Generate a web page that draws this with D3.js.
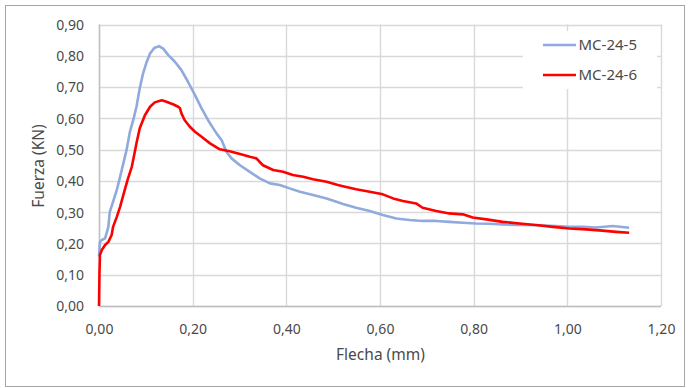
<!DOCTYPE html>
<html>
<head>
<meta charset="utf-8">
<script src="https://cdn.jsdelivr.net/npm/d3@7"></script>
<style>
  html, body { margin: 0; padding: 0; background: #fff; }
  svg { display: block; }
  text { font-family: "Noto Sans", "Open Sans", sans-serif; fill: #4a4a4a; }
</style>
</head>
<body>
<svg id="chart" width="688" height="388"></svg>
<script>
// ---- Data ----
const seriesNames = ["MC-24-5", "MC-24-6"];
const seriesColors = ["#8FAADC", "#FF0000"];

const xTicks = [0, 0.2, 0.4, 0.6, 0.8, 1.0, 1.2];
const yTicks = [0, 0.1, 0.2, 0.3, 0.4, 0.5, 0.6, 0.7, 0.8, 0.9];

// MC-24-5 (blue): flecha (mm), fuerza (KN)
const mc245X = [0, 0.002, 0.006, 0.013, 0.020, 0.023, 0.030, 0.038, 0.045, 0.052, 0.059, 0.066, 0.073, 0.080, 0.087, 0.094, 0.102, 0.109, 0.118, 0.128, 0.137, 0.148, 0.162, 0.176, 0.190, 0.205, 0.219, 0.233, 0.244, 0.251, 0.262, 0.272, 0.283, 0.301, 0.322, 0.343, 0.365, 0.386, 0.407, 0.429, 0.457, 0.486, 0.507, 0.521, 0.549, 0.578, 0.606, 0.635, 0.663, 0.691, 0.720, 0.748, 0.777, 0.805, 0.834, 0.862, 0.891, 0.933, 0.976, 1.004, 1.033, 1.061, 1.097, 1.132];
const mc245Y = [0.158, 0.205, 0.211, 0.216, 0.253, 0.301, 0.333, 0.371, 0.413, 0.456, 0.500, 0.557, 0.594, 0.637, 0.696, 0.743, 0.781, 0.807, 0.825, 0.831, 0.823, 0.802, 0.781, 0.754, 0.717, 0.674, 0.632, 0.594, 0.568, 0.552, 0.530, 0.493, 0.472, 0.450, 0.429, 0.408, 0.392, 0.387, 0.376, 0.365, 0.355, 0.344, 0.333, 0.326, 0.314, 0.304, 0.291, 0.280, 0.275, 0.272, 0.272, 0.269, 0.266, 0.264, 0.263, 0.261, 0.259, 0.258, 0.256, 0.253, 0.253, 0.251, 0.256, 0.250];

// MC-24-6 (red)
const mc246X = [0, 0.001, 0.002, 0.006, 0.013, 0.020, 0.027, 0.030, 0.038, 0.045, 0.055, 0.062, 0.070, 0.075, 0.080, 0.087, 0.098, 0.109, 0.119, 0.134, 0.144, 0.158, 0.169, 0.173, 0.176, 0.183, 0.194, 0.205, 0.219, 0.237, 0.258, 0.279, 0.301, 0.322, 0.336, 0.350, 0.372, 0.393, 0.414, 0.436, 0.457, 0.486, 0.510, 0.521, 0.549, 0.578, 0.606, 0.628, 0.649, 0.677, 0.691, 0.720, 0.748, 0.777, 0.798, 0.827, 0.862, 0.898, 0.933, 0.969, 1.004, 1.040, 1.075, 1.104, 1.132];
const mc246Y = [0, 0.105, 0.163, 0.179, 0.195, 0.205, 0.227, 0.253, 0.285, 0.317, 0.371, 0.408, 0.445, 0.482, 0.520, 0.568, 0.610, 0.637, 0.651, 0.658, 0.653, 0.645, 0.637, 0.632, 0.616, 0.594, 0.573, 0.557, 0.541, 0.520, 0.501, 0.495, 0.486, 0.477, 0.472, 0.450, 0.435, 0.429, 0.419, 0.413, 0.405, 0.397, 0.387, 0.383, 0.373, 0.365, 0.357, 0.344, 0.336, 0.328, 0.314, 0.304, 0.296, 0.293, 0.283, 0.277, 0.269, 0.264, 0.259, 0.253, 0.248, 0.245, 0.241, 0.237, 0.234];

(function () {
// ---- Layout ----
const svg = d3.select("#chart");
const pL = 99, pR = 661, pT = 24.5, pB = 306;

const x = d3.scaleLinear().domain([0, 1.2]).range([pL, pR]);
const y = d3.scaleLinear().domain([0, 0.9]).range([pB, pT]);
const fmt = d => d3.format(".2f")(d).replace(".", ",");

// outer border
svg.append("rect")
  .attr("x", 5.5).attr("y", 5.5).attr("width", 679).attr("height", 381)
  .attr("fill", "#fff").attr("stroke", "#a6a6a6").attr("stroke-width", 1);

// gridlines
const grid = svg.append("g");
grid.selectAll("line.h").data(yTicks).join("line")
  .attr("x1", pL).attr("x2", pR)
  .attr("y1", d => Math.round(y(d)) + 0.5).attr("y2", d => Math.round(y(d)) + 0.5)
  .attr("stroke", "#d9d9d9").attr("stroke-width", 1.4);
grid.selectAll("line.v").data(xTicks).join("line")
  .attr("y1", pT).attr("y2", pB)
  .attr("x1", d => Math.round(x(d)) + 0.5).attr("x2", d => Math.round(x(d)) + 0.5)
  .attr("stroke", "#d9d9d9").attr("stroke-width", 1.4);

// axes (domain lines)
svg.append("line").attr("x1", pL).attr("x2", pR)
  .attr("y1", Math.round(pB) + 0.5).attr("y2", Math.round(pB) + 0.5)
  .attr("stroke", "#bfbfbf").attr("stroke-width", 1.4);
svg.append("line").attr("x1", pL + 0.5).attr("x2", pL + 0.5)
  .attr("y1", pT).attr("y2", pB)
  .attr("stroke", "#bfbfbf").attr("stroke-width", 1.4);

// tick labels via d3 axes
const xAxis = d3.axisBottom(x).tickValues(xTicks).tickFormat(fmt).tickSize(0).tickPadding(0);
const gx = svg.append("g").attr("transform", `translate(0,${pB})`).call(xAxis);
gx.select(".domain").remove();
gx.selectAll("text").attr("y", 28).attr("dy", 0).attr("font-size", 14).attr("fill", "#4a4a4a")
  .attr("font-family", '"Noto Sans", sans-serif');

const yAxis = d3.axisLeft(y).tickValues(yTicks).tickFormat(fmt).tickSize(0).tickPadding(0);
const gy = svg.append("g").attr("transform", `translate(${pL},0)`).call(yAxis);
gy.select(".domain").remove();
gy.selectAll("text").attr("x", -15).attr("dy", "0.35em").attr("font-size", 14).attr("fill", "#4a4a4a")
  .attr("font-family", '"Noto Sans", sans-serif');

// axis titles
svg.append("text").attr("x", 380.5).attr("y", 360).attr("text-anchor", "middle")
  .attr("font-size", 15.5).text("Flecha (mm)");
svg.append("text").attr("transform", "translate(44,166) rotate(-90)").attr("text-anchor", "middle")
  .attr("font-size", 15.5).text("Fuerza (KN)");

// lines
const line = d3.line().x(d => x(d[0])).y(d => y(d[1]));
const data = [
  d3.zip(mc245X, mc245Y),
  d3.zip(mc246X, mc246Y)
];
const widths = [2.6, 2.6];
data.forEach((pts, i) => {
  svg.append("path").datum(pts)
    .attr("d", line)
    .attr("fill", "none")
    .attr("stroke", seriesColors[i])
    .attr("stroke-width", widths[i])
    .attr("stroke-linejoin", "round");
});

// legend
const lg = svg.append("g");
lg.append("rect").attr("x", 523).attr("y", 31).attr("width", 134).attr("height", 58).attr("fill", "#fff");
seriesNames.forEach((name, i) => {
  const yy = 45 + i * 30;
  lg.append("line").attr("x1", 543).attr("x2", 576).attr("y1", yy).attr("y2", yy)
    .attr("stroke", seriesColors[i]).attr("stroke-width", widths[i]);
  lg.append("text").attr("x", 578.5).attr("y", yy).attr("dy", "0.35em")
    .attr("font-size", 15).text(name);
});
})();
</script>
</body>
</html>
